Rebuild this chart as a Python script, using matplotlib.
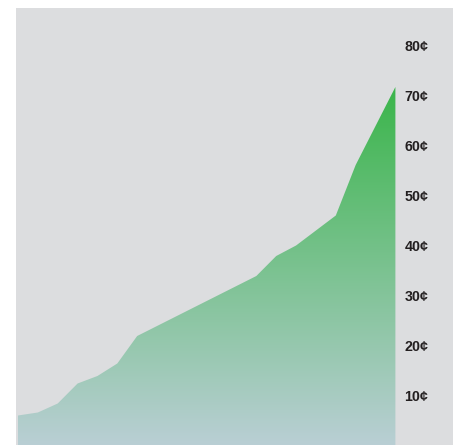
import numpy as np
import matplotlib.pyplot as plt
from matplotlib import font_manager
from matplotlib.colors import LinearSegmentedColormap

# price in cents, one point per period
values = [6.3, 6.9, 8.7, 12.7, 14.2, 16.7, 22.2, 24.2, 26.2, 28.2,
          30.2, 32.2, 34.2, 38.2, 40.3, 43.3, 46.3, 56.4, 64.2, 72.0]
ticks = [10, 20, 30, 40, 50, 60, 70, 80]
tick_labels = [f'{t}\u00a2' for t in ticks]

x = np.arange(len(values))

# plain (non-narrow) Liberation Sans Bold for the labels
bold = [f for f in font_manager.findSystemFonts() if f.endswith('LiberationSans-Bold.ttf')]
label_font = font_manager.FontProperties(fname=bold[0], size=10.3) if bold else \
    font_manager.FontProperties(family='DejaVu Sans', weight='bold', size=9.5)

fig = plt.figure(figsize=(4.53, 4.45), dpi=100)
ax = fig.add_axes([16/453, 0, 437/453, 437/445])
ax.set_facecolor('#dcdddf')
ax.set_xlim(-0.1, 21.9)
ax.set_ylim(0.4, 87.8)
for s in ax.spines.values():
    s.set_visible(False)
ax.set_xticks([])
ax.set_yticks([])

# area with vertical gradient, clipped to the filled polygon
poly = ax.fill_between(x, 0, values, color='none', lw=0)
cmap = LinearSegmentedColormap.from_list('g', ['#bacfd5', '#3ab54a'])
grad = np.linspace(0, 1, 256).reshape(-1, 1)
img = ax.imshow(grad, cmap=cmap, origin='lower', aspect='auto',
                extent=[x[0], x[-1], 0, max(values)], zorder=1)
img.set_clip_path(poly.get_paths()[0], transform=ax.transData)

for t, lab in zip(ticks, tick_labels):
    ax.text(19.45, t, lab, ha='left', va='center',
            fontproperties=label_font, color='#231f20')

fig.savefig('out.png', dpi=100, facecolor='white')
